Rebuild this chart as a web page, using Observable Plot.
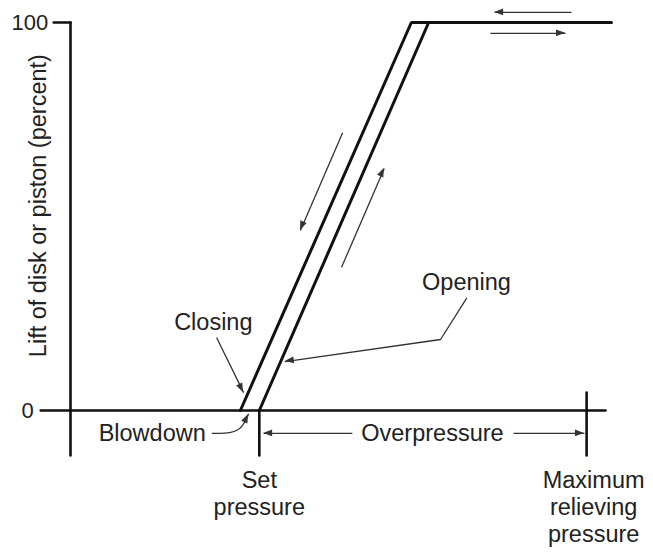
<!DOCTYPE html>
<html>
<head>
<meta charset="utf-8">
<script src="https://cdn.jsdelivr.net/npm/d3@7"></script>
<script src="https://cdn.jsdelivr.net/npm/@observablehq/plot@0.6"></script>
<style>
  html, body { margin: 0; padding: 0; background: #fff; }
</style>
</head>
<body>
<div id="chart"></div>
<script>
// ---- Diagram data (x: pressure units, y: lift percent) ----
const liftTicks = [0, 100];
const liftTickLabels = ["0", "100"];

// valve lines
const closingX = [31.4, 63.0, 100];
const closingY = [0, 100, 100];
const openingX = [34.9, 66.2];
const openingY = [0, 100];

// axes
const zeroLineX = [-5.5, 98.9];
const yAxisX = [0, 0];
const yAxisY = [100, -11.6];
const tick100X = [-3.1, 0];
const setPressureX = 34.9;
const setPressureY = [0, -11.6];
const maxReliefX = 95.4;
const maxReliefY = [4.6, -11.6];

// straight arrows (from -> to, head at "to")
const arrowNames = ["topLeft", "topRight", "down", "up", "closingLeader", "overLeft", "overRight"];
const arrowX1 = [92.6, 77.6, 50.3, 50.1, 27.0, 52.1, 81.9];
const arrowY1 = [102.6, 97.2, 71.6, 36.9, 18.8, -5.9, -5.9];
const arrowX2 = [78.4, 91.5, 42.5, 58.0, 32.0, 35.7, 95.0];
const arrowY2 = [102.6, 97.2, 46.4, 62.4, 4.6, -5.9, -5.9];

// polyline leaders
const openingLeaderX = [73.2, 68.4, 39.7];
const openingLeaderY = [28.9, 18.3, 12.6];
const blowdownLeaderX = [26.2, 29.9, 31.8, 32.9];
const blowdownLeaderY = [-5.9, -5.9, -4.4, -1.0];

// labels
const labelText = ["Closing", "Opening", "Overpressure"];
const labelX = [26.4, 73.2, 66.9];
const labelY = [22.7, 33.0, -5.9];

const ink = "#111";
const thin = "#333";
const textColor = "#222";
const fs = 23.5;

const arrows = arrowNames.map((n, i) => ({name: n, x1: arrowX1[i], y1: arrowY1[i], x2: arrowX2[i], y2: arrowY2[i]}));
const pts = (xs, ys) => xs.map((x, i) => ({x, y: ys[i]}));

// filled arrowheads drawn through the plot's scales
function heads(list) {
  return (index, scales) => {
    const g = d3.create("svg:g").attr("fill", thin);
    for (const [from, to] of list) {
      const px = scales.x(to[0]), py = scales.y(to[1]);
      const qx = scales.x(from[0]), qy = scales.y(from[1]);
      const dx = px - qx, dy = py - qy, len = Math.hypot(dx, dy);
      const ux = dx / len, uy = dy / len, nx = -uy, ny = ux;
      const L = 9, W = 3.4;
      g.append("path").attr("d",
        `M${px},${py}L${px - L * ux + W * nx},${py - L * uy + W * ny}L${px - L * ux - W * nx},${py - L * uy - W * ny}Z`);
    }
    return g.node();
  };
}

const headList = [
  ...arrows.map(a => [[a.x1, a.y1], [a.x2, a.y2]]),
  [[openingLeaderX[1], openingLeaderY[1]], [openingLeaderX[2], openingLeaderY[2]]],
  [[blowdownLeaderX[2], blowdownLeaderY[2]], [blowdownLeaderX[3], blowdownLeaderY[3]]]
];

const chart = Plot.plot({
  width: 653,
  height: 554,
  margin: 0,
  x: {type: "linear", domain: [0, 100], range: [70, 611], axis: null},
  y: {type: "linear", domain: [0, 100], range: [410, 22], axis: null},
  style: {fontFamily: "'Liberation Sans', Arial, Helvetica, sans-serif", background: "#fff", color: textColor},
  marks: [
    // axes
    Plot.line(pts(zeroLineX, [0, 0]), {x: "x", y: "y", stroke: ink, strokeWidth: 2.6}),
    Plot.line(pts(yAxisX, yAxisY), {x: "x", y: "y", stroke: ink, strokeWidth: 2.6}),
    Plot.line(pts(tick100X, [100, 100]), {x: "x", y: "y", stroke: ink, strokeWidth: 2.6}),
    Plot.line(pts([setPressureX, setPressureX], setPressureY), {x: "x", y: "y", stroke: ink, strokeWidth: 2.6}),
    Plot.line(pts([maxReliefX, maxReliefX], maxReliefY), {x: "x", y: "y", stroke: ink, strokeWidth: 2.6}),
    // valve characteristic
    Plot.line(pts(closingX, closingY), {x: "x", y: "y", stroke: ink, strokeWidth: 3, strokeLinejoin: "miter"}),
    Plot.line(pts(openingX, openingY), {x: "x", y: "y", stroke: ink, strokeWidth: 3}),
    // arrow shafts
    Plot.link(arrows, {x1: "x1", y1: "y1", x2: "x2", y2: "y2", stroke: thin, strokeWidth: 1.3}),
    Plot.line(pts(openingLeaderX, openingLeaderY), {x: "x", y: "y", stroke: thin, strokeWidth: 1.3}),
    Plot.line(pts(blowdownLeaderX, blowdownLeaderY), {x: "x", y: "y", stroke: thin, strokeWidth: 1.3, curve: "basis"}),
    heads(headList),
    // tick labels
    Plot.text(liftTicks, {x: t => t === 0 ? -6.8 : -4.1, y: t => t, text: (t, i) => liftTickLabels[i], textAnchor: "end", fontSize: 22, fill: textColor}),
    // y-axis title
    Plot.text(["Lift of disk or piston (percent)"], {x: -6.0, y: 52.8, text: d => d, rotate: -90, fontSize: fs, fill: textColor}),
    // annotations
    Plot.text(labelText, {x: (d, i) => labelX[i], y: (d, i) => labelY[i], text: d => d, fontSize: fs, fill: textColor}),
    Plot.text(["Blowdown"], {x: 25.0, y: -5.9, text: d => d, textAnchor: "end", fontSize: fs, fill: textColor}),
    Plot.text(["Set\npressure"], {x: setPressureX, y: -15.2, text: d => d, lineAnchor: "top", lineHeight: 1.13, fontSize: fs, fill: textColor}),
    Plot.text(["Maximum\nrelieving\npressure"], {x: 96.7, y: -15.0, text: d => d, lineAnchor: "top", lineHeight: 1.15, fontSize: fs, fill: textColor})
  ]
});

document.getElementById("chart").appendChild(chart);
</script>
</body>
</html>
